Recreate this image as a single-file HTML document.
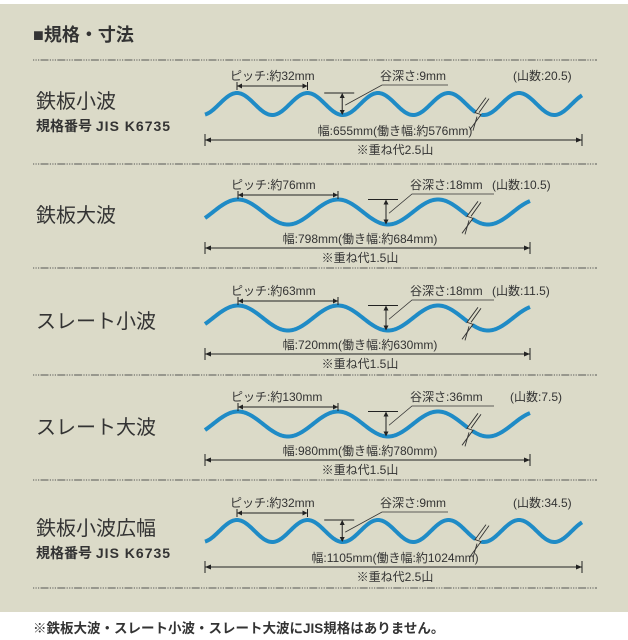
<!DOCTYPE html>
<html><head><meta charset="utf-8"><style>
body{margin:0;width:628px;height:640px;background:#fff;overflow:hidden}
svg{display:block}
text{font-family:"Liberation Sans","Noto Sans CJK JP",sans-serif;fill:#333}
</style></head><body>
<svg id="s" width="628" height="640" viewBox="0 0 628 640" xmlns="http://www.w3.org/2000/svg">
<rect x="0" y="4" width="628" height="608" fill="#dbdac8"/>
<text x="33" y="41" font-size="18" font-weight="bold" fill="#222">■規格・寸法</text>
<text x="33" y="633" font-size="13.5" font-weight="bold" fill="#222">※鉄板大波・スレート小波・スレート大波にJIS規格はありません。</text>
<g id="g"></g>
</svg>
<script>
var g=document.getElementById('g'),h='';
[60,164,268,375,480,588].forEach(function(y){h+='<line x1="33" y1="'+y+'" x2="597" y2="'+y+'" stroke="#555" stroke-width="1" stroke-dasharray="1.2 1.3 1.2 1.3 1.2 1.3 8 1.3"/>';});
function sec(o){
 var d='';for(var x=o.x0;x<=o.x1;x+=1){var y=o.c-o.A*Math.cos(2*Math.PI*(x-o.pk)/o.P);d+=(x==o.x0?'M':'L')+x+' '+y.toFixed(2);}
 h+='<path d="'+d+'" fill="none" stroke="#1f8bc6" stroke-width="4"/>';
 var bx=o.br,by=o.c-o.A*Math.cos(2*Math.PI*(bx-o.pk)/o.P);
 h+='<rect x="'+(bx-3)+'" y="'+(by-8)+'" width="6" height="16" fill="#dbdac8" transform="rotate(30 '+bx+' '+by+')"/>';
 h+='<path d="M'+(bx+8)+' '+(by-16)+'L'+(bx-3)+' '+(by-1)+'L'+(bx+3)+' '+(by+1)+'L'+(bx-8)+' '+(by+16)+'" fill="none" stroke="#333" stroke-width="0.9"/>';
 h+='<path d="M'+(bx+11)+' '+(by-15)+'L'+(bx+1)+' '+(by-1)+'M'+(bx-1)+' '+(by+3)+'L'+(bx-5)+' '+(by+17)+'" fill="none" stroke="#333" stroke-width="0.9"/>';
 var ax=o.pk,ax2=o.pk+o.P,py=o.ly+10;
 h+='<line x1="'+ax+'" y1="'+py+'" x2="'+ax2+'" y2="'+py+'" stroke="#222" stroke-width="1"/>';
 h+='<line x1="'+ax+'" y1="'+(py-4)+'" x2="'+ax+'" y2="'+(py+4)+'" stroke="#222"/><line x1="'+ax2+'" y1="'+(py-4)+'" x2="'+ax2+'" y2="'+(py+4)+'" stroke="#222"/>';
 h+='<path d="M'+ax+' '+py+'l5 -2.5v5zM'+ax2+' '+py+'l-5 -2.5v5z" fill="#222"/>';
 h+='<text x="'+(ax-7)+'" y="'+(o.ly+4)+'" font-size="12">ピッチ:'+o.pitch+'</text>';
 var dx=o.pk+o.P*1.5-o.P*0.05+3,top=o.c-o.A,bot=o.c+o.A;
 h+='<line x1="'+(dx-18)+'" y1="'+top+'" x2="'+(dx+12)+'" y2="'+top+'" stroke="#222"/>';
 h+='<line x1="'+dx+'" y1="'+(top+1)+'" x2="'+dx+'" y2="'+(bot-1)+'" stroke="#222"/>';
 h+='<path d="M'+dx+' '+top+'l-2.5 5h5zM'+dx+' '+bot+'l-2.5 -5h5z" fill="#222"/>';
 h+='<text x="'+o.dlx+'" y="'+(o.ly+4)+'" font-size="12">谷深さ:'+o.depth+'</text>';
 h+='<path d="M'+(o.dlx+o.dlw)+' '+(o.ly+9)+'H'+(o.dlx+2)+'L'+(dx+3)+' '+(o.c+o.A*0.1)+'" fill="none" stroke="#333" stroke-width="0.8"/>';
 h+='<text x="'+o.yx+'" y="'+(o.ly+4)+'" font-size="12">(山数:'+o.yama+')</text>';
 var wy=o.wy;
 h+='<line x1="'+o.x0+'" y1="'+wy+'" x2="'+o.x1+'" y2="'+wy+'" stroke="#222"/>';
 h+='<line x1="'+o.x0+'" y1="'+(wy-6)+'" x2="'+o.x0+'" y2="'+(wy+6)+'" stroke="#222"/><line x1="'+o.x1+'" y1="'+(wy-6)+'" x2="'+o.x1+'" y2="'+(wy+6)+'" stroke="#222"/>';
 h+='<path d="M'+o.x0+' '+wy+'l6 -2.5v5zM'+o.x1+' '+wy+'l-6 -2.5v5z" fill="#222"/>';
 h+='<text x="'+o.wx+'" y="'+(wy-5)+'" font-size="12" text-anchor="middle">'+o.wtxt+'</text>';
 h+='<text x="'+o.wx+'" y="'+(wy+14)+'" font-size="12" text-anchor="middle">'+o.ov+'</text>';
 h+='<text x="36" y="'+o.ty+'" font-size="20" fill="#444">'+o.title+'</text>';
 if(o.jis)h+='<text x="36" y="'+(o.ty+23)+'" font-size="14" font-weight="bold" fill="#333">規格番号 <tspan letter-spacing="1">JIS  K6735</tspan></text>';
}
function small(dy,o){sec(Object.assign({x0:205,x1:582,c:104+dy,A:11,P:70.5,pk:237,br:478,ly:76+dy,dlx:380,dlw:68,yx:513,wy:140+dy,wx:395,ty:108+dy,jis:1,depth:'9mm',pitch:'約32mm'},o));}
function big(dy,o){sec(Object.assign({x0:205,x1:530,c:212+dy,A:12.5,P:100,pk:238,br:470,ly:185+dy,dlx:410,dlw:84,yx:492,wy:248+dy,wx:360,ty:222+dy},o));}
small(0,{title:'鉄板小波',yama:'20.5',wtxt:'幅:655mm(働き幅:約576mm)',ov:'※重ね代2.5山'});
big(0,{title:'鉄板大波',pitch:'約76mm',depth:'18mm',yama:'10.5',wtxt:'幅:798mm(働き幅:約684mm)',ov:'※重ね代1.5山'});
big(106,{title:'スレート小波',pitch:'約63mm',depth:'18mm',yama:'11.5',wtxt:'幅:720mm(働き幅:約630mm)',ov:'※重ね代1.5山'});
big(212,{title:'スレート大波',pitch:'約130mm',depth:'36mm',yama:'7.5',yx:510,wtxt:'幅:980mm(働き幅:約780mm)',ov:'※重ね代1.5山'});
small(427,{title:'鉄板小波広幅',yama:'34.5',wtxt:'幅:1105mm(働き幅:約1024mm)',ov:'※重ね代2.5山'});
g.innerHTML=h;
</script>
</body></html>
